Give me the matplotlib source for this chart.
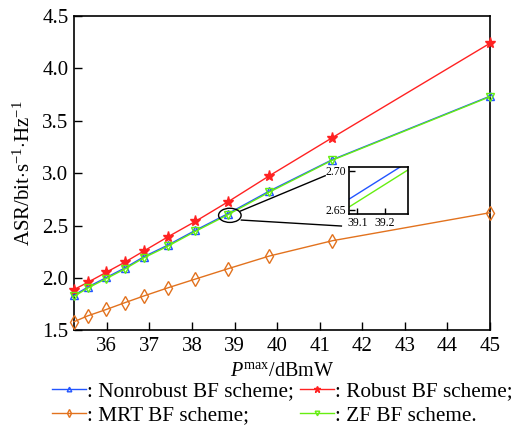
import matplotlib
matplotlib.use("Agg")
import matplotlib.pyplot as plt
from matplotlib.patches import Ellipse

plt.rcParams["font.family"] = ["Liberation Serif", "DejaVu Serif"]
plt.rcParams["mathtext.fontset"] = "custom"
plt.rcParams["mathtext.rm"] = "Liberation Serif"
plt.rcParams["mathtext.it"] = "Liberation Serif:italic"

# transmit power (dBmW)
p_max = [35.23, 35.56, 35.99, 36.42, 36.88, 37.44, 38.08, 38.85, 39.82, 41.30, 45.0]

# achievable secrecy rate per scheme
asr_nonrobust = [1.835, 1.915, 2.005, 2.095, 2.205, 2.315, 2.455, 2.615, 2.83, 3.13, 3.735]
asr_robust = [1.89, 1.96, 2.055, 2.15, 2.26, 2.394, 2.54, 2.728, 2.976, 3.34, 4.24]
asr_mrt = [1.583, 1.64, 1.70, 1.764, 1.83, 1.907, 1.99, 2.089, 2.21, 2.356, 2.623]
asr_zf = [1.825, 1.905, 1.995, 2.085, 2.195, 2.305, 2.445, 2.605, 2.82, 3.125, 3.73]

x_ticks = [36, 37, 38, 39, 40, 41, 42, 43, 44, 45]
y_ticks = [1.5, 2.0, 2.5, 3.0, 3.5, 4.0, 4.5]

c_blue = "#2255ff"
c_red = "#ff2222"
c_orange = "#e2721e"
c_green = "#66ee11"

fig = plt.figure(figsize=(5.18, 4.26), dpi=100)
ax = fig.add_axes([0.1429, 0.2244, 0.8030, 0.7380])

l_nr, = ax.plot(p_max, asr_nonrobust, color=c_blue, lw=1.0, marker="^", ms=5.5,
                mfc="none", mec=c_blue, mew=1.0, clip_on=False, zorder=3)
l_r, = ax.plot(p_max, asr_robust, color=c_red, lw=1.0, marker="*", ms=8,
               mfc=c_red, mec=c_red, clip_on=False, zorder=3)
l_m, = ax.plot(p_max, asr_mrt, color=c_orange, lw=1.0, marker="d", ms=7,
               mfc="none", mec=c_orange, mew=1.0, clip_on=False, zorder=3)
l_z, = ax.plot(p_max, asr_zf, color=c_green, lw=1.0, marker="v", ms=5.5,
               mfc="none", mec=c_green, mew=1.0, clip_on=False, zorder=3)

ax.set_xlim(35.23, 45)
ax.set_ylim(1.5, 4.5)
ax.set_xticks(x_ticks)
ax.set_yticks(y_ticks)
ax.set_yticklabels([f"{v:.1f}" for v in y_ticks])
ax.tick_params(direction="in", length=6, width=1.0, labelsize=15)
ax.tick_params(axis="x", pad=5)
ax.tick_params(axis="y", pad=4)
for s in ax.spines.values():
    s.set_linewidth(1.2)

ax.set_xlabel(r"$P^{\mathrm{max}}$/dBmW", fontsize=14.5, labelpad=4)
ax.set_ylabel(r"ASR/bit$\cdot$s$^{-1}$$\cdot$Hz$^{-1}$", fontsize=15, labelpad=5)

# zoom marker and connector lines
ax.add_patch(Ellipse((38.89, 2.598), 0.53, 0.135, fill=False, ec="black", lw=1.0, zorder=4))
ax.plot([39.14, 41.13], [2.639, 2.976], color="black", lw=1.0, zorder=4)
ax.plot([39.16, 41.51], [2.553, 2.496], color="black", lw=1.0, zorder=4)

# inset
axi = fig.add_axes([0.6743, 0.4969, 0.1139, 0.1117])
axi.plot(p_max, asr_nonrobust, color=c_blue, lw=1.0)
axi.plot(p_max, asr_zf, color=c_green, lw=1.0)
axi.set_xlim(39.071, 39.284)
axi.set_ylim(2.6445, 2.705)
axi.set_xticks([39.1, 39.2])
axi.set_yticks([2.65, 2.70])
axi.set_yticklabels(["2.65", "2.70"])
axi.tick_params(direction="in", length=4, width=1.0, labelsize=8.5, pad=2)
for s in axi.spines.values():
    s.set_linewidth(1.2)

fig.legend([l_nr, l_m, l_r, l_z],
           [": Nonrobust BF scheme;", ": MRT BF scheme;",
            ": Robust BF scheme;", ": ZF BF scheme."],
           ncol=2, loc="upper left", bbox_to_anchor=(0.100, 0.104),
           frameon=False, fontsize=15.3, handlelength=1.6, handletextpad=0.05,
           columnspacing=0.3, labelspacing=0.2, borderpad=0, borderaxespad=0,
           markerscale=0.6)

fig.savefig("out.png", dpi=100)
